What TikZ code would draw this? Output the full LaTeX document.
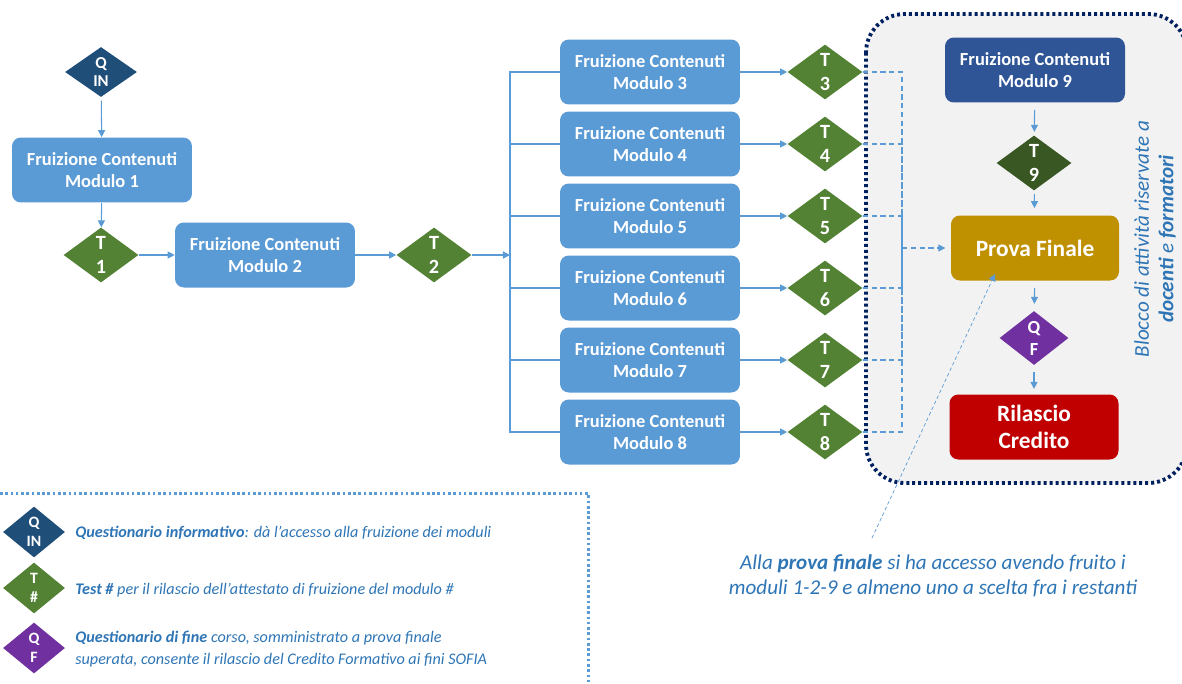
\documentclass[tikz,border=0pt]{standalone}
\usepackage{fontspec}
\setmainfont{Carlito}
\usetikzlibrary{shapes.geometric,arrows.meta}

\definecolor{boxblue}{HTML}{5B9BD5}
\definecolor{qnavy}{HTML}{1F4E79}
\definecolor{tgreen}{HTML}{548235}
\definecolor{darkgreen}{HTML}{385723}
\definecolor{m9blue}{HTML}{2F5597}
\definecolor{gold}{HTML}{BF9000}
\definecolor{darkred}{HTML}{C00000}
\definecolor{purple}{HTML}{7030A0}
\definecolor{textblue}{HTML}{2E75B6}
\definecolor{navy}{HTML}{002060}
\definecolor{lightgrey}{HTML}{F2F2F2}

\begin{document}
\begin{tikzpicture}[x=0.02cm,y=-0.02cm,
	modulo/.style={fill=boxblue, text=white, rounded corners=5pt, minimum width=3.6cm, minimum height=1.3cm, align=center, font=\bfseries\fontsize{10.5}{12.5}\selectfont},
	tdiam/.style={diamond, fill=tgreen, text=white, inner sep=0pt, minimum width=1.5cm, minimum height=1.1cm, align=center, font=\bfseries\fontsize{11.5}{13.5}\selectfont},
	qdiam/.style={diamond, fill=qnavy, text=white, inner sep=0pt, minimum width=1.44cm, minimum height=1cm, align=center, font=\bfseries\fontsize{9.5}{10.5}\selectfont},
	legdiam/.style={qdiam, minimum width=1.24cm, minimum height=1.02cm, font=\bfseries\fontsize{9}{10.5}\selectfont},
	link/.style={draw=boxblue, line width=0.6pt, -{Triangle[length=4pt,width=4pt]}},
	bus/.style={draw=boxblue, line width=0.6pt},
	dline/.style={draw=boxblue, line width=0.6pt, dash pattern=on 3pt off 2pt},
	legtext/.style={text=textblue, anchor=west, inner sep=0pt, align=left, font=\itshape\fontsize{9.2}{12.5}\selectfont}]
	\useasboundingbox (0,0) rectangle (1182,683);

	% blocco docenti e formatori
	\fill[lightgrey, rounded corners=22pt] (866,14) rectangle (1187,483);
	\draw[navy, line width=2.2pt, dash pattern=on 1.7pt off 1.7pt, rounded corners=22pt] (866,14) rectangle (1187,483);

	\node[qdiam] (qin) at (101,72) {Q\\IN};
	\node[modulo] (m1) at (102,170) {Fruizione Contenuti\\Modulo 1};
	\node[tdiam] (t1) at (101,255) {T\\1};
	\node[modulo] (m2) at (265,255) {Fruizione Contenuti\\Modulo 2};
	\node[tdiam] (t2) at (434,255) {T\\2};
	\coordinate (bus) at (510,255);
	\coordinate (jn) at (902,248);

	\draw[link, shorten <=2pt] (qin) -- (m1);
	\draw[link] (m1) -- (t1);
	\draw[link] (t1) -- (m2);
	\draw[link] (m2) -- (t2);
	\draw[link] (t2) -- (bus);

	\foreach \n/\y in {3/72,4/144,5/216,6/288,7/360,8/432} {
		\node[modulo] (m\n) at (650,\y) {Fruizione Contenuti\\Modulo \n};
		\node[tdiam] (t\n) at (825,\y) {T\\\n};
		\draw[bus] (bus) |- (m\n);
		\draw[link] (m\n) -- (t\n);
		\draw[dline] (t\n) -| (jn);
	}

	\node[modulo, fill=m9blue] (m9) at (1035,70) {Fruizione Contenuti\\Modulo 9};
	\node[tdiam, fill=darkgreen] (t9) at (1034,163) {T\\9};
	\node[modulo, fill=gold, minimum width=3.36cm, font=\bfseries\fontsize{13.3}{15}\selectfont] (pf) at (1035,248) {Prova Finale};
	\node[qdiam, fill=purple, minimum width=1.38cm, minimum height=1.08cm, font=\bfseries\fontsize{10.5}{12.5}\selectfont] (qf) at (1034,338) {Q\\F};
	\node[modulo, fill=darkred, minimum width=3.38cm, font=\bfseries\fontsize{13.3}{15}\selectfont] (rc) at (1034,427) {Rilascio\\Credito};

	\draw[link, shorten <=4pt, shorten >=2pt] (m9) -- (t9);
	\draw[link, shorten <=2pt, shorten >=4pt] (t9) -- (pf);
	\draw[link, shorten <=4pt, shorten >=4pt] (pf) -- (qf);
	\draw[link, shorten <=4pt, shorten >=3pt] (qf) -- (rc);
	\draw[link, dash pattern=on 3pt off 2pt, shorten >=3pt] (jn) -- (pf);

	\node[rotate=90, align=center, text=textblue, font=\itshape\fontsize{12}{14}\selectfont] (blocco) at (1155,239) {Blocco di attività riservate a\\\textbf{docenti} e \textbf{formatori}};

	% nota prova finale
	\node[align=center, text=textblue, font=\itshape\fontsize{12}{14.2}\selectfont] (nota) at (933,576) {Alla \textbf{prova finale} si ha accesso avendo fruito i\\moduli 1-2-9 e almeno uno a scelta fra i restanti};
	\coordinate (nt) at (872,538);
	\coordinate (pfin) at (995,274);
	\draw[link, line width=0.4pt, dash pattern=on 2pt off 1.5pt] (nt) -- (pfin);

	% legenda
	\draw[boxblue, line width=1.7pt, dash pattern=on 1.5pt off 1.5pt] (0,493) -- (588,493) -- (588,690);
	\node[legdiam] (lqin) at (34,532) {Q\\IN};
	\node[legdiam, fill=tgreen] (lt) at (34,588) {T\\\#};
	\node[legdiam, fill=purple] (lqf) at (34,648) {Q\\F};
	\node[legtext] (lq1) at (75,533) {\textbf{Questionario informativo}: dà l’accesso alla fruizione dei moduli};
	\node[legtext] (lq2) at (75,590) {\textbf{Test \#} per il rilascio dell’attestato di fruizione del modulo \#};
	\node[legtext] (lq3) at (75,649) {\textbf{Questionario di fine} corso, somministrato a prova finale\\superata, consente il rilascio del Credito Formativo ai fini SOFIA};
\end{tikzpicture}
\end{document}
